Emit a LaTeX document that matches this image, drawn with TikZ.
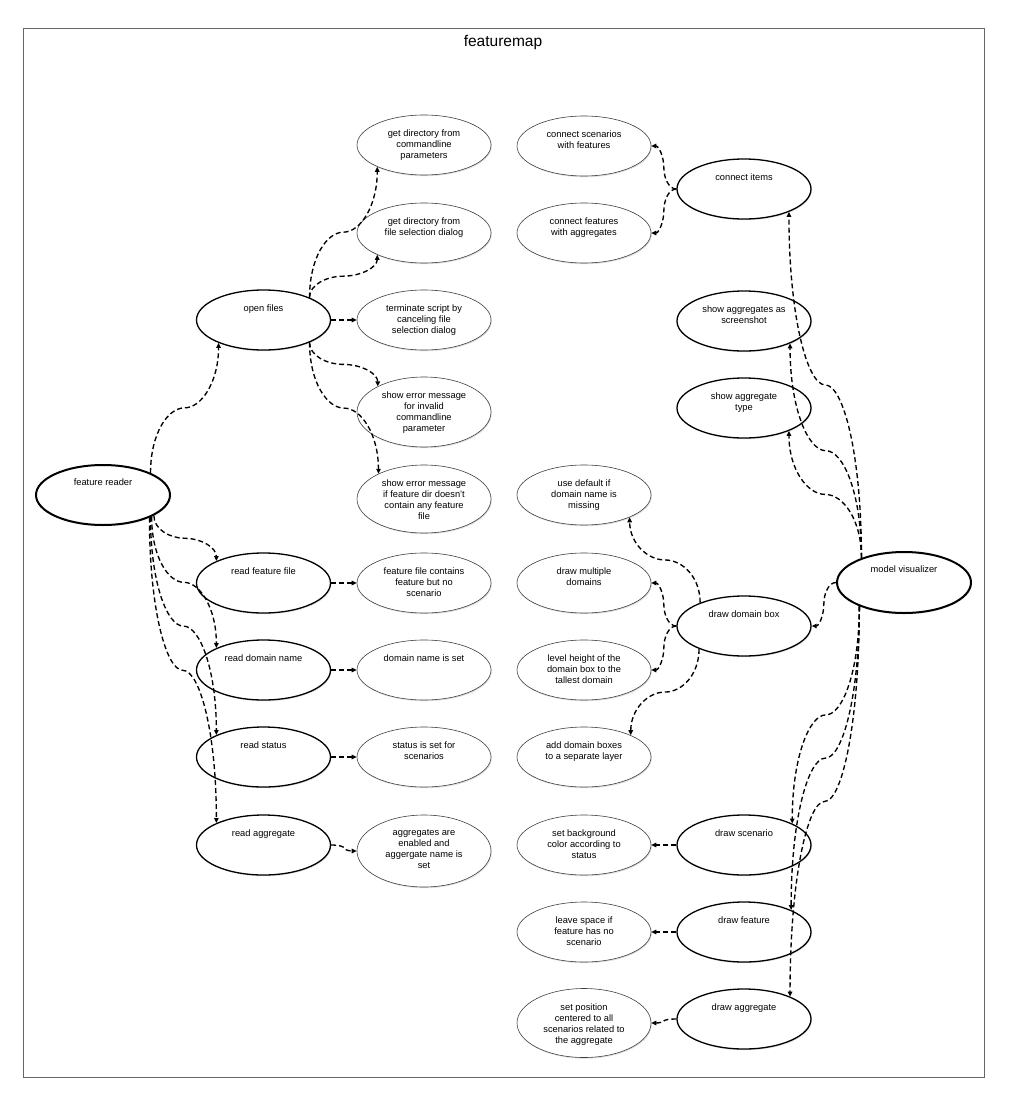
\documentclass[tikz,border=0pt]{standalone}
\usepackage{fontspec}
\setmainfont{Liberation Sans}
\usetikzlibrary{shapes.geometric,arrows.meta,calc,shadows}
\newcommand\UN[5]{\node[#1] (#2) at (#3,#4) {};
  \node[txt] (#2t) at ([yshift=-15pt]#2.north) {#5};}
\begin{document}
\begin{tikzpicture}[x=1pt,y=-1pt,
 base/.style={ellipse, fill=white, minimum width=134pt, minimum height=60pt, inner sep=0pt,
   drop shadow={shadow xshift=0.8pt, shadow yshift=-1.2pt, opacity=0.25}},
 leaf/.style={base, draw=black!75, line width=0.6pt},
 mid/.style={base, draw=black, line width=1.3pt},
 root/.style={base, draw=black, line width=2pt},
 txt/.style={font=\fontsize{9.3}{11}\selectfont, align=center, inner sep=0pt, anchor=north},
 conn/.style={draw, dash pattern=on 5pt off 3pt, line width=1.35pt, -{Triangle[length=5pt,width=4.5pt]}},
 vs/.style={to path={let \p1=(\tikztostart), \p2=(\tikztotarget), \p3=($(\p1)!0.5!(\p2)$) in
   .. controls (\x1, {\y1+0.6*(\y3-\y1)}) and ({\x1+0.5*(\x3-\x1)}, \y3) .. (\p3)
   .. controls ({\x3+0.5*(\x2-\x3)}, \y3) and (\x2, {\y3+0.4*(\y2-\y3)}) .. (\p2)}},
 hs/.style={to path={let \p1=(\tikztostart), \p2=(\tikztotarget), \p3=($(\p1)!0.5!(\p2)$) in
   .. controls ({\x1+0.6*(\x3-\x1)}, \y1) and (\x3, {\y1+0.5*(\y3-\y1)}) .. (\p3)
   .. controls (\x3, {\y3+0.5*(\y2-\y3)}) and ({\x3+0.4*(\x2-\x3)}, \y2) .. (\p2)}}
]
\useasboundingbox[fill=white] (0,0) rectangle (1022,1097);
\draw[draw=black!60, line width=0.8pt, fill=white,
  drop shadow={shadow xshift=1pt, shadow yshift=-1pt, opacity=0.3}] (23,28) rectangle (984,1077);
\node[font=\fontsize{15.5}{18}\selectfont] (title) at (503,43) {featuremap};

% left part
\UN{root}{fr}{103}{495}{feature reader}
\UN{mid}{of}{263.5}{320}{open files}
\UN{mid}{rff}{263.5}{583}{read feature file}
\UN{mid}{rdn}{263.5}{670}{read domain name}
\UN{mid}{rs}{263.5}{757}{read status}
\UN{mid}{ra}{263.5}{845}{read aggregate}

\UN{leaf}{gd1}{424}{145}{get directory from\\commandline\\parameters}
\UN{leaf}{gd2}{424}{233}{get directory from\\file selection dialog}
\UN{leaf}{term}{424}{320}{terminate script by\\canceling file\\selection dialog}
\UN{leaf,minimum height=70pt}{err1}{424}{412}{show error message\\for invalid\\commandline\\parameter}
\UN{leaf,minimum height=68pt}{err2}{424}{499}{show error message\\if feature dir doesn't\\contain any feature\\file}
\UN{leaf}{ffc}{424}{583}{feature file contains\\feature but no\\scenario}
\UN{leaf}{dns}{424}{670}{domain name is set}
\UN{leaf}{sss}{424}{757}{status is set for\\scenarios}
\UN{leaf,minimum height=72pt}{aen}{424}{851}{aggregates are\\enabled and\\aggergate name is\\set}

% right part
\UN{leaf}{cs}{584}{146}{connect scenarios\\with features}
\UN{leaf}{cf}{584}{233}{connect features\\with aggregates}
\UN{leaf}{ud}{584}{495}{use default if\\domain name is\\missing}
\UN{leaf}{dm}{584}{583}{draw multiple\\domains}
\UN{leaf}{lh}{584}{670}{level height of the\\domain box to the\\tallest domain}
\UN{leaf}{adb}{584}{757}{add domain boxes\\to a separate layer}
\UN{leaf}{sbc}{584}{845}{set background\\color according to\\status}
\UN{leaf}{ls}{584}{932}{leave space if\\feature has no\\scenario}
\UN{leaf,minimum height=69pt}{sp}{584}{1023}{set position\\centered to all\\scenarios related to\\the aggregate}

\UN{mid}{ci}{744}{189}{connect items}
\UN{mid}{sas}{744}{321}{show aggregates as\\screenshot}
\UN{mid}{sat}{744}{408}{show aggregate\\type}
\UN{mid}{ddb}{744}{626}{draw domain box}
\UN{mid}{ds}{744}{845}{draw scenario}
\UN{mid}{df}{744}{932}{draw feature}
\UN{mid}{da}{744}{1019}{draw aggregate}
\UN{root,minimum height=61pt}{mv}{904}{582.5}{model visualizer}

% connectors
\draw[conn] (fr.25) to[vs] (of.207);
\draw[conn] (fr.-22) to[vs] (rff.155);
\draw[conn] (fr.-24) to[vs] (rdn.155);
\draw[conn] (fr.-25) to[vs] (rs.155);
\draw[conn] (fr.-26) to[vs] (ra.155);
\draw[conn] (of.26) to[vs] (gd1.205);
\draw[conn] (of.26) to[vs] (gd2.205);
\draw[conn] (of.east) -- (term.west);
\draw[conn] (of.-26) to[vs] (err1.151);
\draw[conn] (of.-26) to[vs] (err2.151);
\draw[conn] (rff.east) -- (ffc.west);
\draw[conn] (rdn.east) -- (dns.west);
\draw[conn] (rs.east) -- (sss.west);
\draw[conn] (ra.east) to[hs] (aen.west);
\draw[conn] (ci.west) to[hs] (cs.east);
\draw[conn] (ci.west) to[hs] (cf.east);
\draw[conn] (mv.150) to[vs] (ci.-27);
\draw[conn] (mv.150) to[vs] (sas.-26);
\draw[conn] (mv.150) to[vs] (sat.-27);
\draw[conn] (mv.west) to[hs] (ddb.east);
\draw[conn] (mv.208) to[vs] (ds.24);
\draw[conn] (mv.208) to[vs] (df.25);
\draw[conn] (mv.208) to[vs] (da.26);
\draw[conn] (ddb.152) to[vs] (ud.-26);
\draw[conn] (ddb.west) to[hs] (dm.east);
\draw[conn] (ddb.west) to[hs] (lh.east);
\draw[conn] (ddb.207) to[vs] (adb.25);
\draw[conn] (ds.west) -- (sbc.east);
\draw[conn] (df.west) -- (ls.east);
\draw[conn] (da.west) to[hs] (sp.east);
\end{tikzpicture}
\end{document}
